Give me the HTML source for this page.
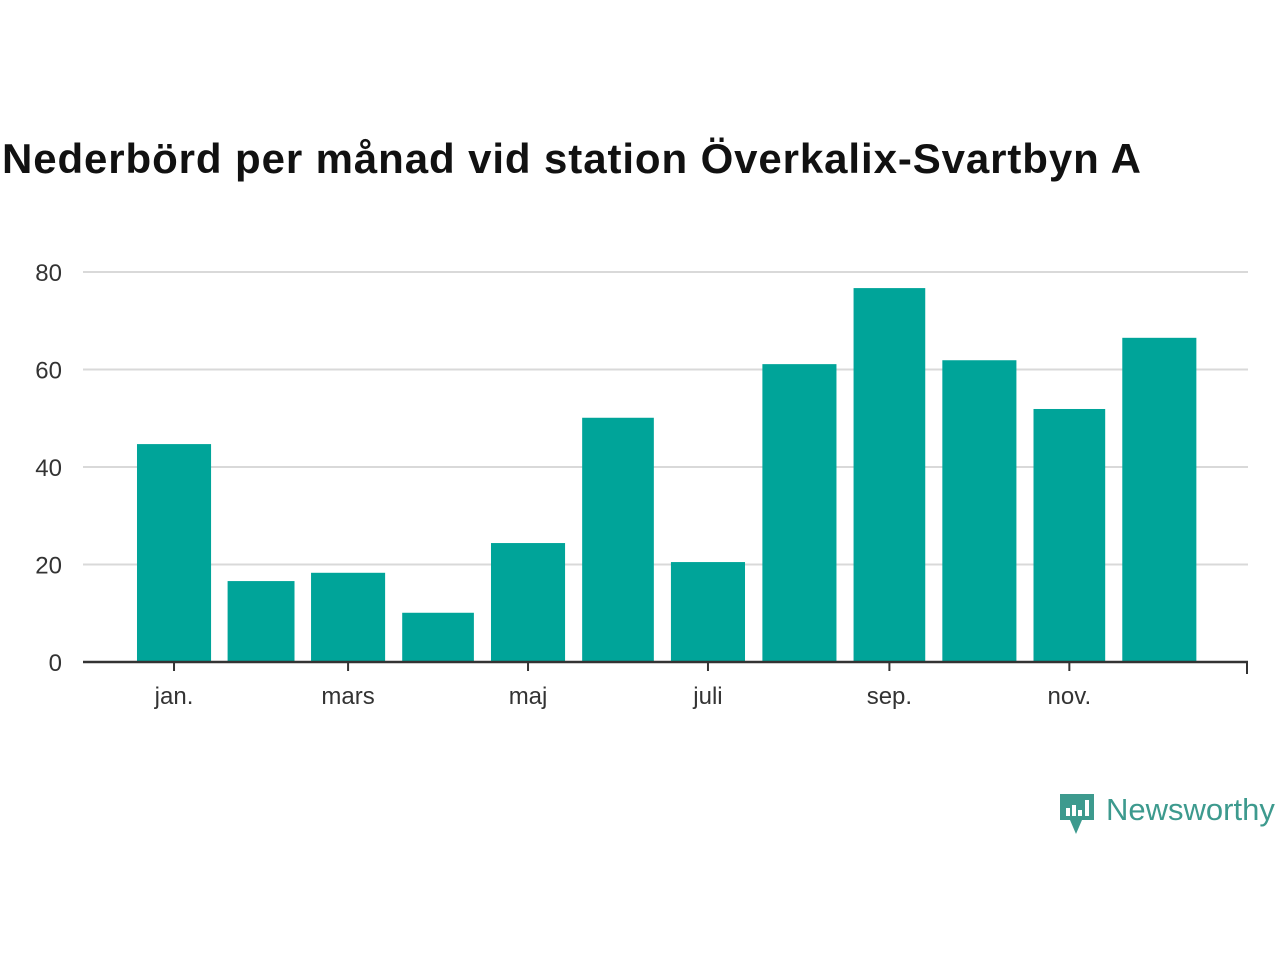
<!DOCTYPE html>
<html><head><meta charset="utf-8"><style>
body{margin:0;background:#fff;width:1280px;height:960px;overflow:hidden;font-family:"Liberation Sans",sans-serif;}
h1{position:absolute;left:2px;top:135px;margin:0;font-size:42px;font-weight:bold;color:#111;letter-spacing:0.9px;}
</style></head><body>
<h1>Nederbörd per månad vid station Överkalix-Svartbyn A</h1>
<svg id="chart" width="1280" height="960" style="position:absolute;left:0;top:0">
<g>
<path d="M1060 794 h34 v26 h-12 l-6 14 l-6 -14 h-10 z" fill="#3d9a8e"/>
<rect x="1066" y="808" width="4" height="8" fill="#fff"/><rect x="1072" y="805" width="4" height="11" fill="#fff"/><rect x="1078" y="810" width="4" height="6" fill="#fff"/><rect x="1085" y="800" width="4" height="16" fill="#fff"/>
<text x="1106" y="820" font-size="31" fill="#3d9a8e" font-family="Liberation Sans, sans-serif">Newsworthy</text>
</g>
</svg>
<script>
const months=["jan.","feb.","mars","april","maj","juni","juli","aug.","sep.","okt.","nov.","dec."];
const days=[31,28,31,30,31,30,31,31,30,31,30,31];
const values=[44.7,16.6,18.3,10.1,24.4,50.1,20.5,61.1,76.7,61.9,51.9,66.5];
const yTicks=[0,20,40,60,80];
const labeledMonths=["jan.","mars","maj","juli","sep.","nov."];
const svg=document.getElementById('chart');const NS="http://www.w3.org/2000/svg";
const pxDay=2.95,x0=128.3,y0=662,pxUnit=4.875;
const x=d=>x0+d*pxDay;const y=v=>y0-v*pxUnit;
function mk(t,a){const e=document.createElementNS(NS,t);for(const k in a)e.setAttribute(k,a[k]);svg.appendChild(e);return e;}
yTicks.forEach(t=>{
 if(t>0){const g=mk('line',{x1:83,x2:1248,y1:y(t),y2:y(t),stroke:'#d9d9d9','stroke-width':2});
 
 }
 const l=mk('text',{x:62,y:y(t)+9,'text-anchor':'end','font-size':24,fill:'#333'});l.textContent=t;
 
 
});
let start=0;
months.forEach((m,i)=>{
 const w=days[i]*pxDay*0.81,c=x(start+days[i]/2);
 const r=mk('rect',{x:c-w/2,y:y(values[i]),width:w,height:values[i]*pxUnit,fill:'#00a499'});
 
 
 if(labeledMonths.includes(m)){
  const tk=mk('line',{x1:c,x2:c,y1:y0,y2:y0+9,stroke:'#333','stroke-width':2});
  
  
  const l=mk('text',{x:c,y:704,'text-anchor':'middle','font-size':24,fill:'#333'});l.textContent=m;
  
  
 }
 start+=days[i];
});
const ax=mk('line',{x1:83,x2:1248,y1:y0,y2:y0,stroke:'#333','stroke-width':2.5});


const et=mk('line',{x1:1247,x2:1247,y1:y0,y2:y0+12,stroke:'#333','stroke-width':2});


</script>
</body></html>
